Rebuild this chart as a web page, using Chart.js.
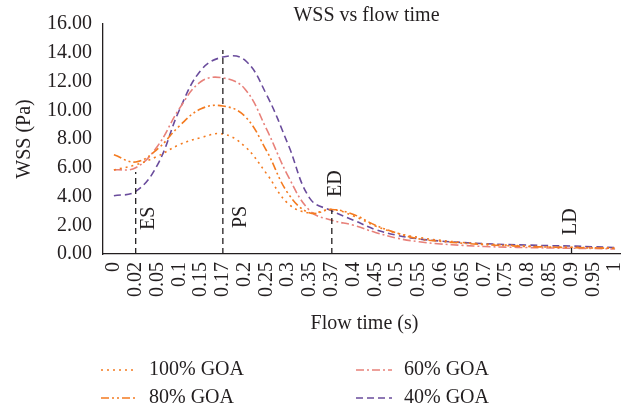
<!DOCTYPE html>
<html>
<head>
<meta charset="utf-8">
<script src="https://cdn.jsdelivr.net/npm/chart.js@4.4.1/dist/chart.umd.min.js"></script>
<style>
  html, body { margin: 0; padding: 0; background: #fff; overflow: hidden; }
  #wrap { width: 627px; height: 411px; }
</style>
</head>
<body>
<div id="wrap"><canvas id="grafico" width="627" height="411"></canvas></div>
<script>
// Data
const flowTime = ['0', '0.02', '0.05', '0.1', '0.15', '0.17', '0.2', '0.25', '0.3', '0.35', '0.37', '0.4',
  '0.45', '0.5', '0.55', '0.6', '0.65', '0.7', '0.75', '0.8', '0.85', '0.9', '0.95', '1'];
const goa100 = [5.85, 6.2, 6.8, 7.6, 8.1, 8.35, 7.5, 5.6, 3.5, 2.85, 3.1, 2.65,
  1.95, 1.45, 1.15, 0.95, 0.8, 0.7, 0.62, 0.55, 0.5, 0.47, 0.44, 0.42];
const goa80 = [6.9, 6.4, 7.3, 8.9, 10.1, 10.3, 9.6, 7.2, 4.2, 2.85, 3.1, 2.75,
  2.0, 1.45, 1.05, 0.88, 0.75, 0.65, 0.58, 0.52, 0.48, 0.45, 0.42, 0.4];
const goa60 = [5.85, 6.0, 7.5, 10.1, 12.0, 12.25, 11.5, 8.7, 5.4, 3.0, 2.35, 2.0,
  1.5, 1.1, 0.85, 0.7, 0.6, 0.52, 0.48, 0.45, 0.42, 0.4, 0.38, 0.35];
const goa40 = [4.05, 4.35, 6.2, 10.0, 12.8, 13.7, 13.5, 11.1, 7.6, 3.85, 3.0, 2.35,
  1.7, 1.3, 1.05, 0.9, 0.8, 0.72, 0.66, 0.62, 0.58, 0.55, 0.5, 0.45];
const seriesNames = ['100% GOA', '80% GOA', '60% GOA', '40% GOA'];

// Phase markers (ES, PS, ED, LD)
const markerNames = ['ES', 'PS', 'ED', 'LD'];
const markerTimes = ['0.02', '0.17', '0.37', '0.9'];
const markerTops = [5.7, 14.2, 3.05, 0.65];

const serif = "'Liberation Serif', 'Times New Roman', serif";
const ink = '#231f20';
const laranja = '#f47b20';
const rosa = '#e8817a';
const roxo = '#6a4c9c';

// vertical dashed markers with their labels
const marcadores = {
  id: 'marcadores',
  afterDatasetsDraw(chart) {
    const { ctx, scales: { x, y } } = chart;
    // label offsets relative to each line (dx, bottom in px)
    const etiqueta = [[12, 230], [17, 228], [3, 197], [-2, 235]];
    ctx.save();
    ctx.strokeStyle = ink;
    ctx.lineWidth = 1.3;
    ctx.setLineDash([6, 4]);
    markerNames.forEach((nome, i) => {
      const px = x.getPixelForValue(flowTime.indexOf(markerTimes[i]));
      ctx.beginPath();
      ctx.moveTo(px, y.getPixelForValue(0));
      ctx.lineTo(px, y.getPixelForValue(markerTops[i]));
      ctx.stroke();
    });
    ctx.setLineDash([]);
    ctx.fillStyle = ink;
    ctx.font = '20px ' + serif;
    ctx.textAlign = 'left';
    ctx.textBaseline = 'middle';
    markerNames.forEach((nome, i) => {
      const px = x.getPixelForValue(flowTime.indexOf(markerTimes[i]));
      ctx.save();
      ctx.translate(px + etiqueta[i][0], etiqueta[i][1]);
      ctx.rotate(-Math.PI / 2);
      ctx.fillText(nome, 0, 1);
      ctx.restore();
    });
    ctx.restore();
  },
};

// title and two-column legend
const extras = {
  id: 'extras',
  afterDraw(chart) {
    const { ctx, chartArea } = chart;
    ctx.save();
    ctx.fillStyle = ink;
    ctx.font = '20px ' + serif;
    ctx.textAlign = 'center';
    ctx.textBaseline = 'middle';
    ctx.fillText('WSS vs flow time', (chartArea.left + chartArea.right) / 2 + 2, 16);

    const posicoes = [[101, 370], [101, 398], [356, 370], [356, 398]];
    chart.data.datasets.forEach((ds, i) => {
      const [lx, ly] = posicoes[i];
      ctx.strokeStyle = ds.borderColor;
      ctx.lineWidth = ds.borderWidth;
      ctx.setLineDash(ds.borderDash);
      ctx.beginPath();
      ctx.moveTo(lx, ly);
      ctx.lineTo(lx + 36, ly);
      ctx.stroke();
      ctx.setLineDash([]);
      ctx.textAlign = 'left';
      ctx.fillStyle = ink;
      ctx.fillText(ds.label, lx + 48, ly);
    });
    ctx.restore();
  },
};

function serie(nome, dados, cor, tracejado) {
  return {
    label: nome,
    data: dados,
    borderColor: cor,
    borderWidth: 1.6,
    borderDash: tracejado,
    pointRadius: 0,
    tension: 0.4,
    fill: false,
  };
}

const ctx = document.getElementById('grafico').getContext('2d');
new Chart(ctx, {
  type: 'line',
  data: {
    labels: flowTime,
    datasets: [
      serie(seriesNames[0], goa100, laranja, [2, 4]),
      serie(seriesNames[1], goa80, laranja, [8, 3, 2, 3, 2, 3]),
      serie(seriesNames[2], goa60, rosa, [8, 3, 2, 3]),
      serie(seriesNames[3], goa40, roxo, [7, 4]),
    ],
  },
  options: {
    responsive: false,
    animation: false,
    layout: { padding: { top: 24, left: 0, right: 1, bottom: 71 } },
    plugins: {
      legend: { display: false },
      title: { display: false },
      tooltip: { enabled: false },
    },
    scales: {
      x: {
        offset: true,
        grid: { display: false, drawTicks: false },
        border: { color: ink, width: 1.3 },
        ticks: {
          color: ink,
          font: { family: serif, size: 20 },
          maxRotation: 90,
          minRotation: 90,
          autoSkip: false,
          padding: 8,
        },
        title: {
          display: true,
          text: 'Flow time (s)',
          color: ink,
          font: { family: serif, size: 20 },
          padding: { top: 4, bottom: 4 },
        },
        afterFit(scale) {
          scale.height = 86;
          scale.paddingLeft = 0;
          scale.paddingRight = 0;
        },
      },
      y: {
        min: 0,
        max: 16,
        grid: { display: false, drawTicks: false },
        border: { color: ink, width: 1.3 },
        ticks: {
          stepSize: 2,
          color: ink,
          font: { family: serif, size: 20 },
          padding: 11,
          callback: (v) => v.toFixed(2),
        },
        title: {
          display: true,
          text: 'WSS (Pa)',
          color: ink,
          font: { family: serif, size: 20 },
          padding: { top: 13, bottom: 0 },
        },
        afterFit(scale) { scale.width = 103; },
      },
    },
  },
  plugins: [marcadores, extras],
});
</script>
</body>
</html>
